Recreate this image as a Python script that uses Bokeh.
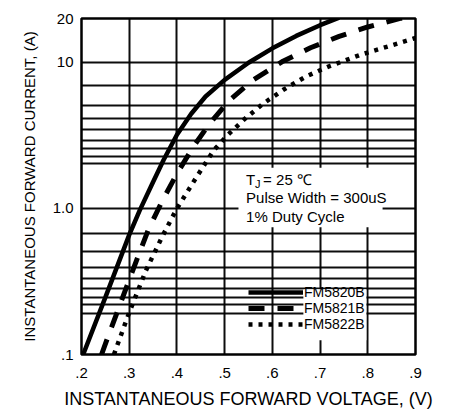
from bokeh.plotting import figure
from bokeh.models import (FixedTicker, Legend, LegendItem, Label, BoxAnnotation, Range1d)
from bokeh.embed import file_html
from bokeh.resources import INLINE

FONT = "Liberation Sans"

# axis ticks and labels
x_ticks = [0.2, 0.3, 0.4, 0.5, 0.6, 0.7, 0.8, 0.9]
x_tick_labels = [".2", ".3", ".4", ".5", ".6", ".7", ".8", ".9"]
y_ticks = [0.1, 1.0, 10.0, 20.0]
y_tick_labels = [".1", "1.0", "10", "20"]

# grid lines as drawn on the datasheet
x_grid = [0.3, 0.4, 0.5, 0.6, 0.7, 0.8]
y_grid = [0.19, 0.22, 0.247, 0.282, 0.333, 0.392, 0.504, 0.677, 1.0,
          2.04, 2.28, 2.59, 2.93, 3.47, 4.13, 5.04, 6.95, 10.0, 20.0]

# series: instantaneous forward voltage (V) vs current (A)
v_5820 = [0.2035, 0.25, 0.30, 0.322, 0.35, 0.372, 0.40, 0.43, 0.46, 0.50, 0.55, 0.60, 0.65, 0.70, 0.74]
i_5820 = [0.1, 0.246, 0.66, 0.97, 1.52, 2.15, 3.2, 4.45, 5.85, 7.6, 9.95, 12.5, 15.2, 18.0, 20.3]

v_5821 = [0.242, 0.26, 0.29, 0.315, 0.34, 0.37, 0.40, 0.435, 0.47, 0.51, 0.56, 0.62, 0.68, 0.74, 0.80, 0.87, 0.90]
i_5821 = [0.1, 0.145, 0.265, 0.438, 0.714, 1.14, 1.73, 2.67, 3.87, 5.5, 7.6, 10.1, 12.6, 15.1, 17.5, 20.1, 21.1]

v_5822 = [0.268, 0.30, 0.335, 0.37, 0.40, 0.44, 0.477, 0.505, 0.54, 0.58, 0.623, 0.67, 0.715, 0.785, 0.85, 0.90]
i_5822 = [0.1, 0.194, 0.376, 0.65, 1.0, 1.62, 2.5, 3.15, 4.05, 5.2, 6.5, 8.0, 9.3, 11.3, 13.1, 14.7]

names = ["FM5820B", "FM5821B", "FM5822B"]

p = figure(width=459, height=411, x_range=Range1d(0.2, 0.9), y_range=Range1d(0.1, 20),
           y_axis_type="log", output_backend="svg", toolbar_location=None,
           min_border_left=81, min_border_right=44, min_border_top=18, min_border_bottom=57,
           background_fill_color="white", border_fill_color="white")

p.outline_line_color = "black"
p.outline_line_width = 2.5

p.xgrid.ticker = FixedTicker(ticks=x_grid)
p.ygrid.ticker = FixedTicker(ticks=y_grid)
for g in (p.xgrid[0], p.ygrid[0]):
    g.grid_line_color = "black"
    g.grid_line_width = 2
    g.grid_line_alpha = 0.95

p.xaxis.ticker = FixedTicker(ticks=x_ticks)
p.xaxis.major_label_overrides = dict(zip(x_ticks, x_tick_labels))
p.yaxis.ticker = FixedTicker(ticks=y_ticks)
p.yaxis.major_label_overrides = dict(zip(y_ticks, y_tick_labels))

for ax in (p.xaxis[0], p.yaxis[0]):
    ax.axis_line_color = None
    ax.major_tick_line_color = None
    ax.minor_tick_line_color = None
    ax.major_tick_out = 0
    ax.major_tick_in = 0
    ax.major_label_text_font = FONT
    ax.major_label_text_font_size = "15px"
    ax.major_label_text_color = "black"
    ax.axis_label_text_font = FONT
    ax.axis_label_text_font_style = "normal"
    ax.axis_label_text_color = "black"

p.xaxis.axis_label = "INSTANTANEOUS FORWARD VOLTAGE, (V)"
p.xaxis.axis_label_text_font_size = "18px"
p.xaxis.major_label_standoff = 13
p.xaxis.axis_label_standoff = 8
p.yaxis.axis_label = "INSTANTANEOUS FORWARD CURRENT, (A)"
p.yaxis.axis_label_text_font_size = "15px"
p.yaxis.major_label_standoff = 8
p.yaxis.axis_label_standoff = 12

# white masks behind the condition text and legend labels
p.add_layout(BoxAnnotation(left=0.529, right=0.831, bottom=0.744, top=1.90,
                           fill_color="white", fill_alpha=1, line_color=None, level="underlay"))
p.add_layout(BoxAnnotation(left=0.665, right=0.797, bottom=0.125, top=0.28,
                           fill_color="white", fill_alpha=1, line_color=None, level="underlay"))

r1 = p.line(v_5820, i_5820, line_color="black", line_width=4.5)
r2 = p.line(v_5821, i_5821, line_color="black", line_width=5, line_dash="16 13")
r3 = p.line(v_5822, i_5822, line_color="black", line_width=4.5, line_dash="4 6")

legend = Legend(items=[LegendItem(label=names[0], renderers=[r1]),
                       LegendItem(label=names[1], renderers=[r2]),
                       LegendItem(label=names[2], renderers=[r3])],
                location=(167, 22), glyph_width=55, glyph_height=16, label_height=16,
                label_standoff=1, spacing=0, padding=0, margin=0,
                background_fill_alpha=0, border_line_color=None,
                label_text_font=FONT, label_text_font_size="14px", label_text_color="black")
p.add_layout(legend, "center")

tx, ty = 0.545, 1.57
common = dict(text_font=FONT, text_color="black", text_baseline="middle")
p.add_layout(Label(x=tx, y=ty, text="T", text_font_size="15px", **common))
p.add_layout(Label(x=tx, y=ty, x_offset=9, y_offset=-4, text="J", text_font_size="11px", **common))
p.add_layout(Label(x=tx, y=ty, x_offset=17, text="= 25 \u2103", text_font_size="15px", **common))
p.add_layout(Label(x=tx, y=1.18, text="Pulse Width = 300uS", text_font_size="15px", **common))
p.add_layout(Label(x=tx, y=0.875, text="1% Duty Cycle", text_font_size="15px", **common))

open("out.html", "w").write(file_html(p, INLINE))
